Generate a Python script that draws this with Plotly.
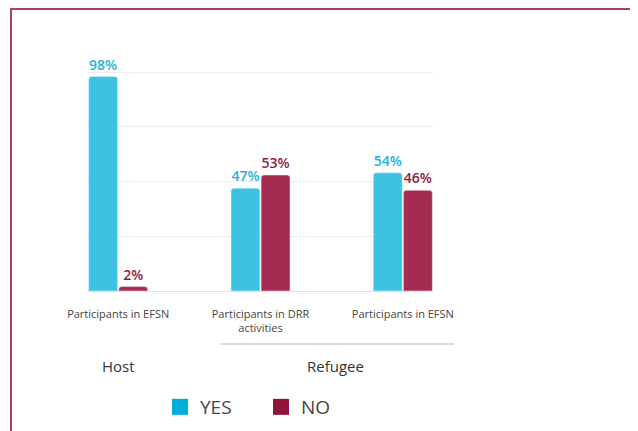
import plotly.graph_objects as go

categories = ["Participants in EFSN", "Participants in DRR<br>activities", "Participants in EFSN"]
groups = ["Host", "Refugee"]
yes_values = [98, 47, 54]
no_values = [2, 53, 46]
series_names = ["YES", "NO"]

x_pos = list(range(len(categories)))

# page body adds an 8px margin; work in screenshot pixels and subtract it
O = 8
W, H = 638 - O, 431 - O
L, R = 88 - O, 433 - O
T, B = 70 - O, 291 - O
pw = R - L
ph = B - T


def px_to_paper_x(px):
    return (px - O - L) / pw


def px_to_paper_y(py):
    return (B - (py - O)) / ph


fig = go.Figure()
fig.add_trace(go.Bar(
    x=x_pos, y=yes_values, name=series_names[0],
    marker=dict(color="#3DC3E1", cornerradius=3),
    text=[f"{v}%" for v in yes_values], textposition="outside",
    textfont=dict(color="#1AB4DE", size=14, family="Open Sans", weight=600),
    constraintext="none", cliponaxis=False, showlegend=False,
))
fig.add_trace(go.Bar(
    x=x_pos, y=no_values, name=series_names[1],
    marker=dict(color="#A62B50", cornerradius=3),
    text=[f"{v}%" for v in no_values], textposition="outside",
    textfont=dict(color="#8F1B3F", size=14, family="Open Sans", weight=600),
    constraintext="none", cliponaxis=False, showlegend=False,
))
# legend entries
fig.add_trace(go.Scatter(x=[None], y=[None], mode="markers", name=series_names[0],
                         marker=dict(symbol="square", size=16, color="#00AEDB")))
fig.add_trace(go.Scatter(x=[None], y=[None], mode="markers", name=series_names[1],
                         marker=dict(symbol="square", size=16, color="#8E1537")))

fig.update_layout(
    width=W, height=H,
    margin=dict(l=L, r=W - R, t=T, b=H - B, autoexpand=False),
    paper_bgcolor="white", plot_bgcolor="white",
    barmode="group", bargap=0.577, bargroupgap=0.04,
    font=dict(family="Open Sans", color="#444"),
    xaxis=dict(range=[-0.212, 2.212], tickvals=x_pos, ticktext=categories,
               showgrid=False, zeroline=False, showline=False, ticks="",
               tickfont=dict(size=11, color="#444"), ticklabelstandoff=15),
    yaxis=dict(range=[0, 101], dtick=25, showticklabels=False, gridcolor="#EEEEEE",
               gridwidth=1, zeroline=True, zerolinecolor="#E2E2E2", zerolinewidth=1,
               showline=False),
    legend=dict(orientation="h", xref="container", yref="container",
                x=(160 - O) / W, xanchor="left",
                y=1 - (407 - O) / H, yanchor="middle",
                font=dict(size=19, color="#444"), entrywidth=56,
                bgcolor="rgba(0,0,0,0)"),
    showlegend=True,
)

# group labels
fig.add_annotation(x=0, y=px_to_paper_y(366), xref="x", yref="paper", text=groups[0],
                   showarrow=False, font=dict(size=15, color="#333"), xanchor="center", yanchor="middle")
fig.add_annotation(x=1.5, y=px_to_paper_y(366), xref="x", yref="paper", text=groups[1],
                   showarrow=False, font=dict(size=15, color="#333"), xanchor="center", yanchor="middle",
                   xshift=4)
fig.add_shape(type="line", xref="paper", yref="paper",
              x0=px_to_paper_x(220), x1=px_to_paper_x(454),
              y0=px_to_paper_y(344), y1=px_to_paper_y(344),
              line=dict(color="#BBBBBB", width=1))

# outer frame
fig.add_shape(type="rect", xref="paper", yref="paper",
              x0=px_to_paper_x(11), x1=px_to_paper_x(700),
              y0=px_to_paper_y(500), y1=px_to_paper_y(9),
              line=dict(color="#A83F64", width=2), fillcolor="rgba(0,0,0,0)", layer="below")

fig.write_html("out.html")
